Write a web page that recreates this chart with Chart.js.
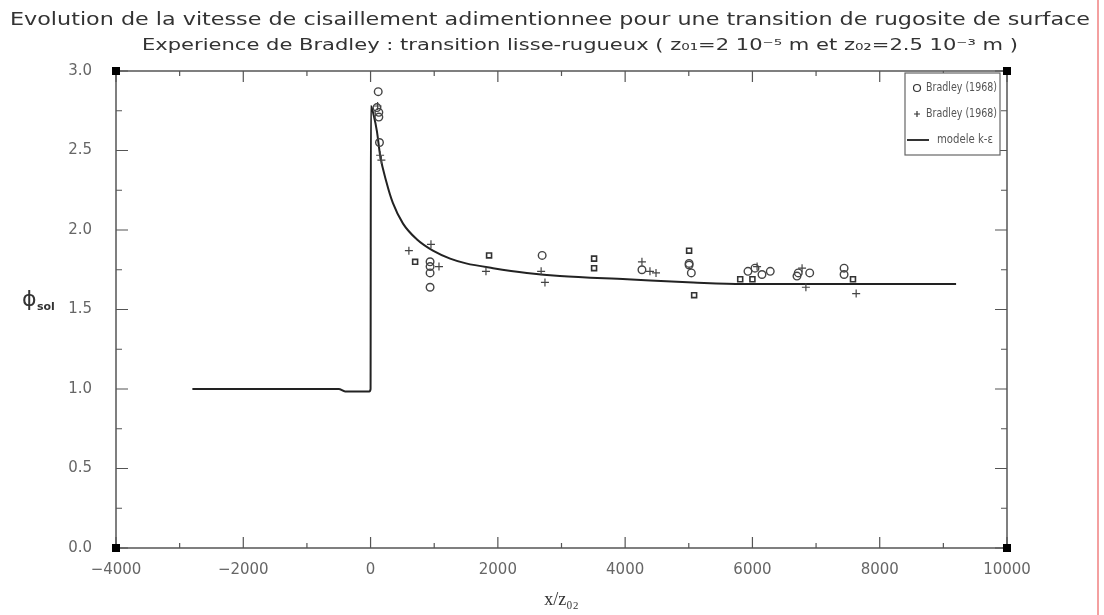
<!DOCTYPE html>
<html>
<head>
<meta charset="utf-8">
<script src="https://cdn.jsdelivr.net/npm/chart.js@4/dist/chart.umd.min.js"></script>
<style>
  body { margin: 0; background: #fff; }
  #wrap { width: 1104px; height: 615px; }
</style>
</head>
<body>
<div id="wrap"><canvas id="phiChart" width="1104" height="615"></canvas></div>
<script>
// Bradley (1968) - circles
const circX = [120, 100, 130, 130, 140, 935, 935, 935, 935, 2696, 4264, 5005, 5005, 5040, 5930, 6040, 6150, 6280, 6700, 6720, 6900, 7440, 7440];
const circY = [2.87, 2.77, 2.74, 2.71, 2.55, 1.80, 1.77, 1.73, 1.64, 1.84, 1.75, 1.79, 1.78, 1.73, 1.74, 1.76, 1.72, 1.74, 1.71, 1.73, 1.73, 1.76, 1.72];
// Bradley (1968) - plus
const crossX = [110, 150, 170, 602, 949, 1075, 1813, 2680, 2740, 4264, 4390, 4485, 6073, 6780, 6840, 7630];
const crossY = [2.78, 2.47, 2.44, 1.87, 1.91, 1.77, 1.74, 1.74, 1.67, 1.80, 1.74, 1.73, 1.77, 1.76, 1.64, 1.60];
// squares (no legend entry)
const squareX = [700, 1862, 3512, 3512, 5005, 5084, 5808, 6000, 7580];
const squareY = [1.80, 1.84, 1.82, 1.76, 1.87, 1.59, 1.69, 1.69, 1.69];
// modele k-epsilon
const modelX = [-2800, -500, -400, -20, 0, 5, 50, 100, 150, 250, 350, 510, 730, 980, 1250, 1500, 1925, 2455, 2975, 4030, 5067, 5850, 9200];
const modelY = [1.0, 1.0, 0.985, 0.985, 1.0, 2.78, 2.72, 2.62, 2.47, 2.30, 2.17, 2.04, 1.94, 1.87, 1.82, 1.79, 1.76, 1.73, 1.71, 1.69, 1.67, 1.66, 1.66];

const xTicks = [-4000, -2000, 0, 2000, 4000, 6000, 8000, 10000];
const yTicks = [0, 0.5, 1.0, 1.5, 2.0, 2.5, 3.0];

const toPts = (xs, ys) => xs.map((x, i) => ({ x: x, y: ys[i] }));

const ink = '#333';
const font = '"DejaVu Sans", sans-serif';

// draw text stretched horizontally to a given width, centred on cx
function wideText(ctx, txt, cx, cy, width) {
    const w = ctx.measureText(txt).width;
    ctx.save();
    ctx.translate(cx, cy);
    ctx.scale(width / w, 1);
    ctx.textAlign = 'center';
    ctx.fillText(txt, 0, 0);
    ctx.restore();
}

const framePlugin = {
    id: 'frame',
    afterDraw(chart) {
        const ctx = chart.ctx;
        const a = chart.chartArea;
        const xs = chart.scales.x, ys = chart.scales.y;
        ctx.save();
        ctx.strokeStyle = '#555';
        ctx.lineWidth = 1.5;
        ctx.strokeRect(a.left, a.top, a.right - a.left, a.bottom - a.top);

        // inward ticks
        ctx.lineWidth = 1.2;
        ctx.beginPath();
        for (let v = -4000; v <= 10000; v += 1000) {
            const p = xs.getPixelForValue(v);
            const len = v % 2000 === 0 ? 11 : 5;
            ctx.moveTo(p, a.bottom); ctx.lineTo(p, a.bottom - len);
            ctx.moveTo(p, a.top); ctx.lineTo(p, a.top + len);
        }
        for (let v = 0; v <= 3.001; v += 0.25) {
            const p = ys.getPixelForValue(v);
            const len = Math.abs(v * 2 - Math.round(v * 2)) < 1e-6 ? 12 : 6;
            ctx.moveTo(a.left, p); ctx.lineTo(a.left + len, p);
            ctx.moveTo(a.right, p); ctx.lineTo(a.right - len, p);
        }
        ctx.stroke();

        // corner squares
        ctx.fillStyle = '#000';
        [[a.left, a.top], [a.right, a.top], [a.left, a.bottom], [a.right, a.bottom]].forEach(c => {
            ctx.fillRect(c[0] - 4, c[1] - 4, 8, 8);
        });

        // titles
        ctx.fillStyle = ink;
        ctx.textBaseline = 'middle';
        ctx.font = '18px ' + font;
        wideText(ctx, 'Evolution de la vitesse de cisaillement adimentionnee pour une transition de rugosite de surface', 550, 20, 1080);
        ctx.font = '15px ' + font;
        wideText(ctx, 'Experience de Bradley : transition lisse-rugueux ( z₀₁=2 10⁻⁵ m et z₀₂=2.5 10⁻³ m )', 580, 46, 876);

        // y label
        ctx.font = '22px ' + font;
        ctx.textAlign = 'left';
        ctx.fillText('ϕ', 22, 300);
        ctx.font = 'bold 11px ' + font;
        ctx.fillText('sol', 37, 307);

        // x label
        ctx.font = '18px "Liberation Serif", serif';
        ctx.textAlign = 'center';
        ctx.fillText('x/z₀₂', a.left + (a.right - a.left) / 2, 600);

        // legend
        const lx = 905, ly = 73, lw = 95, lh = 82;
        ctx.fillStyle = '#fff';
        ctx.fillRect(lx, ly, lw, lh);
        ctx.strokeStyle = '#666';
        ctx.lineWidth = 1.2;
        ctx.strokeRect(lx, ly, lw, lh);
        ctx.fillStyle = '#555';
        ctx.font = '12px ' + font;
        ctx.textAlign = 'left';
        ctx.fillText(chart.data.datasets[0].label, 926, 88, 71);
        ctx.fillText(chart.data.datasets[1].label, 926, 114, 71);
        ctx.fillText(chart.data.datasets[3].label, 937, 140, 56);
        ctx.strokeStyle = ink;
        ctx.lineWidth = 1.2;
        ctx.beginPath();
        ctx.arc(917, 88, 3.5, 0, Math.PI * 2);
        ctx.moveTo(914, 114); ctx.lineTo(920, 114);
        ctx.moveTo(917, 111); ctx.lineTo(917, 117);
        ctx.stroke();
        ctx.lineWidth = 2;
        ctx.beginPath();
        ctx.moveTo(907, 140); ctx.lineTo(929, 140);
        ctx.stroke();

        // red border at right
        ctx.strokeStyle = '#f4a0a0';
        ctx.lineWidth = 2;
        ctx.beginPath();
        ctx.moveTo(1098, 0); ctx.lineTo(1098, 615);
        ctx.stroke();
        ctx.restore();
    }
};

const chart = new Chart(document.getElementById('phiChart').getContext('2d'), {
    type: 'scatter',
    data: {
        datasets: [{
            label: 'Bradley (1968)',
            data: toPts(circX, circY),
            pointStyle: 'circle',
            pointRadius: 3.8,
            borderColor: '#444',
            backgroundColor: 'rgba(255,255,255,0)',
            borderWidth: 1.4
        }, {
            label: 'Bradley (1968)',
            data: toPts(crossX, crossY),
            pointStyle: 'cross',
            pointRadius: 4,
            borderColor: '#444',
            borderWidth: 1.2
        }, {
            label: 'Bradley (1968) ',
            data: toPts(squareX, squareY),
            pointStyle: 'rect',
            pointRadius: 3.5,
            borderColor: '#333',
            backgroundColor: 'rgba(255,255,255,0)',
            borderWidth: 1.6
        }, {
            label: 'modele k-ε',
            type: 'line',
            data: toPts(modelX, modelY),
            borderColor: '#222',
            borderWidth: 2,
            pointRadius: 0,
            cubicInterpolationMode: 'monotone',
            fill: false
        }]
    },
    options: {
        responsive: false,
        animation: false,
        layout: { padding: { top: 71, right: 97, left: 0, bottom: 0 } },
        plugins: {
            legend: { display: false },
            title: { display: false },
            tooltip: { enabled: false }
        },
        scales: {
            x: {
                type: 'linear',
                min: -4000,
                max: 10000,
                afterFit: s => { s.height = 67; },
                afterBuildTicks: s => { s.ticks = xTicks.map(v => ({ value: v })); },
                grid: { display: false },
                border: { display: false },
                ticks: {
                    color: '#666',
                    font: { family: font, size: 15 },
                    padding: 5,
                    maxRotation: 0,
                    callback: v => String(v).replace('-', '−')
                }
            },
            y: {
                min: 0,
                max: 3,
                afterFit: s => { s.width = 116; },
                afterBuildTicks: s => { s.ticks = yTicks.map(v => ({ value: v })); },
                grid: { display: false },
                border: { display: false },
                ticks: {
                    color: '#666',
                    font: { family: font, size: 15 },
                    padding: 16,
                    callback: v => v.toFixed(1)
                }
            }
        }
    },
    plugins: [framePlugin]
});
</script>
</body>
</html>
